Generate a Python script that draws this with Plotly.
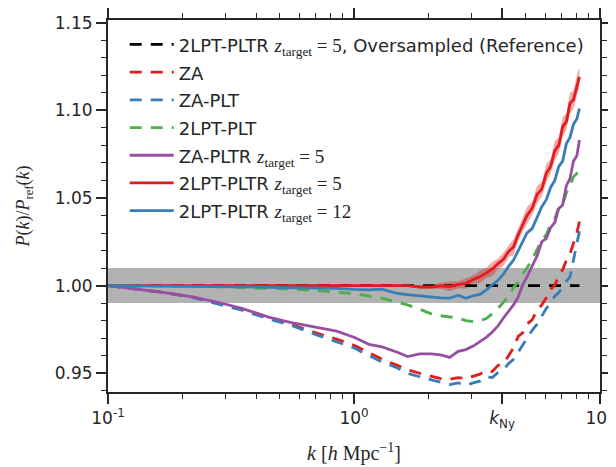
import plotly.graph_objects as go

k = [0.10, 0.13, 0.17, 0.22, 0.28, 0.35, 0.45, 0.55, 0.70, 0.85, 1.0, 1.15, 1.3, 1.5, 1.65,
     1.85, 2.05, 2.25, 2.45, 2.65, 2.85, 3.05, 3.25, 3.45, 3.65, 3.85, 4.05, 4.25, 4.45, 4.65,
     4.85, 5.05, 5.3, 5.55, 5.8, 6.05, 6.3, 6.55, 6.8, 7.05, 7.3, 7.55, 7.8, 8.05, 8.25]

k_ref = [0.10, 8.25]
ref = [1.0, 1.0]

za = [1.0, 0.998, 0.996, 0.9935, 0.990, 0.9865, 0.9815, 0.978, 0.973, 0.9695, 0.966, 0.9615, 0.958, 0.9545, 0.952,
      0.950, 0.9485, 0.947, 0.9465, 0.9475, 0.947, 0.9485, 0.9495, 0.9515, 0.951, 0.9545, 0.9555, 0.960, 0.9645, 0.971,
      0.973, 0.978, 0.9805, 0.986, 0.989, 0.993, 0.998, 1.000, 1.006, 1.009, 1.0145, 1.018, 1.024, 1.030, 1.0365]

za_plt = [1.0, 0.998, 0.996, 0.9933, 0.9897, 0.986, 0.981, 0.9775, 0.972, 0.968, 0.9645, 0.960, 0.9565, 0.953, 0.950,
          0.948, 0.9465, 0.945, 0.9435, 0.9445, 0.943, 0.9445, 0.9455, 0.948, 0.9475, 0.9505, 0.952, 0.9555, 0.958, 0.962,
          0.966, 0.9695, 0.9745, 0.978, 0.9825, 0.987, 0.990, 0.994, 0.996, 0.9995, 1.0025, 1.005, 1.015, 1.024, 1.031]

lpt_plt = [1.0, 1.0, 0.9998, 0.9996, 0.9993, 0.999, 0.9985, 0.998, 0.9972, 0.9965, 0.9955, 0.994, 0.9928, 0.9905, 0.989,
           0.9865, 0.984, 0.9828, 0.9823, 0.9815, 0.980, 0.9795, 0.980, 0.9812, 0.984, 0.987, 0.9905, 0.994, 0.999, 1.002,
           1.0065, 1.010, 1.015, 1.021, 1.026, 1.029, 1.035, 1.038, 1.045, 1.046, 1.053, 1.057, 1.062, 1.064, 1.067]

za_pltr = [1.0, 0.998, 0.996, 0.9935, 0.9905, 0.987, 0.982, 0.979, 0.976, 0.974, 0.9705, 0.9665, 0.965, 0.962, 0.9595,
           0.961, 0.961, 0.9605, 0.959, 0.9625, 0.9635, 0.9655, 0.968, 0.9705, 0.9735, 0.977, 0.9815, 0.985, 0.989, 0.9935,
           1.0005, 1.005, 1.011, 1.017, 1.025, 1.027, 1.033, 1.036, 1.044, 1.046, 1.057, 1.061, 1.071, 1.074, 1.083]

lpt_pltr5 = [1.0, 1.0, 1.0, 1.0, 1.0, 1.0, 1.0001, 1.0001, 1.0002, 1.0002, 1.0002, 1.0001, 1.0002, 1.0003, 1.0,
             0.9992, 0.9992, 0.9998, 0.9995, 1.0005, 1.0012, 1.0035, 1.005, 1.0072, 1.0095, 1.0125, 1.015, 1.0195, 1.022, 1.029,
             1.035, 1.040, 1.044, 1.052, 1.055, 1.064, 1.068, 1.077, 1.080, 1.0905, 1.0935, 1.104, 1.106, 1.114, 1.119]

lpt_pltr5_err = [0.0, 0.0, 0.0, 0.0, 0.0, 0.0, 0.0, 0.0, 0.0003, 0.0003, 0.0004, 0.0004, 0.0005, 0.0005, 0.0006,
                 0.0008, 0.001, 0.0018, 0.0028, 0.002, 0.003, 0.0022, 0.0035, 0.0028, 0.004, 0.003, 0.0038, 0.0032, 0.0045, 0.0035,
                 0.004, 0.0048, 0.0038, 0.005, 0.004, 0.0052, 0.0042, 0.0055, 0.0045, 0.0055, 0.0048, 0.006, 0.005, 0.006, 0.0055]

lpt_pltr12 = [1.0, 0.9999, 0.9998, 0.9997, 0.9995, 0.9993, 0.999, 0.9988, 0.9986, 0.9984, 0.9978, 0.9975, 0.998, 0.9955, 0.9948,
              0.994, 0.9933, 0.993, 0.9928, 0.9945, 0.9928, 0.9942, 0.995, 0.9975, 1.0005, 1.003, 1.0065, 1.011, 1.0145, 1.020,
              1.025, 1.030, 1.0325, 1.0385, 1.045, 1.049, 1.056, 1.060, 1.068, 1.071, 1.081, 1.0845, 1.092, 1.095, 1.101]

x_tickvals = [0.1, 1, 4, 10]
x_ticktext = ["10<sup>-1</sup>", "10<sup>0</sup>", "<i>k</i><sub>Ny</sub>", "10<sup>1</sup>"]
x_minor = [0.2, 0.3, 0.4, 0.5, 0.6, 0.7, 0.8, 0.9, 2, 3, 5, 6, 7, 8, 9]

RED = "#e41a1c"
BLUE = "#377eb8"
GREEN = "#4daf4a"
PURPLE = "#984ea3"
INK = "#262626"
SERIF = "Liberation Serif"

def zt(n):
    return ('<span style="font-family:%s;font-size:19px"><i>z</i><sub>target</sub> = %s</span>' % (SERIF, n))

def lab(s):
    # legend rows are spaced by the legend font size, text drawn at 18px
    return '<span style="font-size:18px">%s</span>' % s

fig = go.Figure()

# shaded band around 2LPT-PLTR z=5
lo = [v - e for v, e in zip(lpt_pltr5, lpt_pltr5_err)]
hi = [v + e for v, e in zip(lpt_pltr5, lpt_pltr5_err)]
fig.add_trace(go.Scatter(x=k, y=lo, mode="lines", line=dict(width=0), showlegend=False, hoverinfo="skip"))
fig.add_trace(go.Scatter(x=k, y=hi, mode="lines", line=dict(width=0), fill="tonexty",
                         fillcolor="rgba(228,26,28,0.38)", showlegend=False, hoverinfo="skip"))

dash = "12px,9px"
lw = 2.8
fig.add_trace(go.Scatter(x=k_ref, y=ref, mode="lines", name=lab("2LPT-PLTR " + zt(5) + ", Oversampled (Reference)"),
                         line=dict(color="black", width=lw, dash=dash)))
fig.add_trace(go.Scatter(x=k, y=za, mode="lines", name=lab("ZA"), line=dict(color=RED, width=lw, dash=dash)))
fig.add_trace(go.Scatter(x=k, y=za_plt, mode="lines", name=lab("ZA-PLT"), line=dict(color=BLUE, width=lw, dash=dash)))
fig.add_trace(go.Scatter(x=k, y=lpt_plt, mode="lines", name=lab("2LPT-PLT"), line=dict(color=GREEN, width=lw, dash=dash)))
fig.add_trace(go.Scatter(x=k, y=za_pltr, mode="lines", name=lab("ZA-PLTR " + zt(5)), line=dict(color=PURPLE, width=lw)))
fig.add_trace(go.Scatter(x=k, y=lpt_pltr5, mode="lines", name=lab("2LPT-PLTR " + zt(5)), line=dict(color=RED, width=lw)))
fig.add_trace(go.Scatter(x=k, y=lpt_pltr12, mode="lines", name=lab("2LPT-PLTR " + zt(12)), line=dict(color=BLUE, width=lw)))

fig.add_shape(type="rect", xref="paper", x0=0, x1=1, yref="y", y0=0.99, y1=1.01,
              fillcolor="#b2b2b2", line=dict(width=0), layer="below")

# the page body adds an 8px margin, so the figure is sized to fit the window
fig.update_layout(
    width=608, height=459,
    margin=dict(l=100, r=16, t=12, b=75),
    paper_bgcolor="white", plot_bgcolor="white",
    font=dict(family="DejaVu Sans", size=17, color=INK),
    showlegend=True,
    legend=dict(x=0.034, y=0.985, xanchor="left", yanchor="top", bgcolor="rgba(0,0,0,0)",
                font=dict(size=19, color=INK), tracegroupgap=0, traceorder="normal", itemwidth=44),
)
fig.update_xaxes(
    type="log", range=[-1, 1], showgrid=False, zeroline=False, automargin=False,
    showline=True, linecolor=INK, linewidth=2, mirror="ticks",
    ticks="outside", ticklen=10, tickwidth=1.5, tickcolor=INK,
    tickvals=x_tickvals, ticktext=x_ticktext, tickfont=dict(size=17),
    minor=dict(tickvals=x_minor, ticks="outside", ticklen=5, tickwidth=1.2, tickcolor=INK),
    title=dict(text="<i>k</i> [<i>h</i> Mpc<sup>−1</sup>]", font=dict(family=SERIF, size=20), standoff=16),
)
fig.update_yaxes(
    range=[0.9393, 1.1515], showgrid=False, zeroline=False, automargin=False,
    showline=True, linecolor=INK, linewidth=2, mirror="ticks",
    ticks="outside", ticklen=10, tickwidth=1.5, tickcolor=INK,
    tickvals=[0.95, 1.0, 1.05, 1.10, 1.15], tickformat=".2f", tickfont=dict(size=17),
    minor=dict(dtick=0.01, ticks="outside", ticklen=5, tickwidth=1.2, tickcolor=INK),
    title=dict(text="<i>P</i>(<i>k</i>)/<i>P</i><sub>ref</sub>(<i>k</i>)", font=dict(family=SERIF, size=18), standoff=20),
)

fig.write_html("out.html")
